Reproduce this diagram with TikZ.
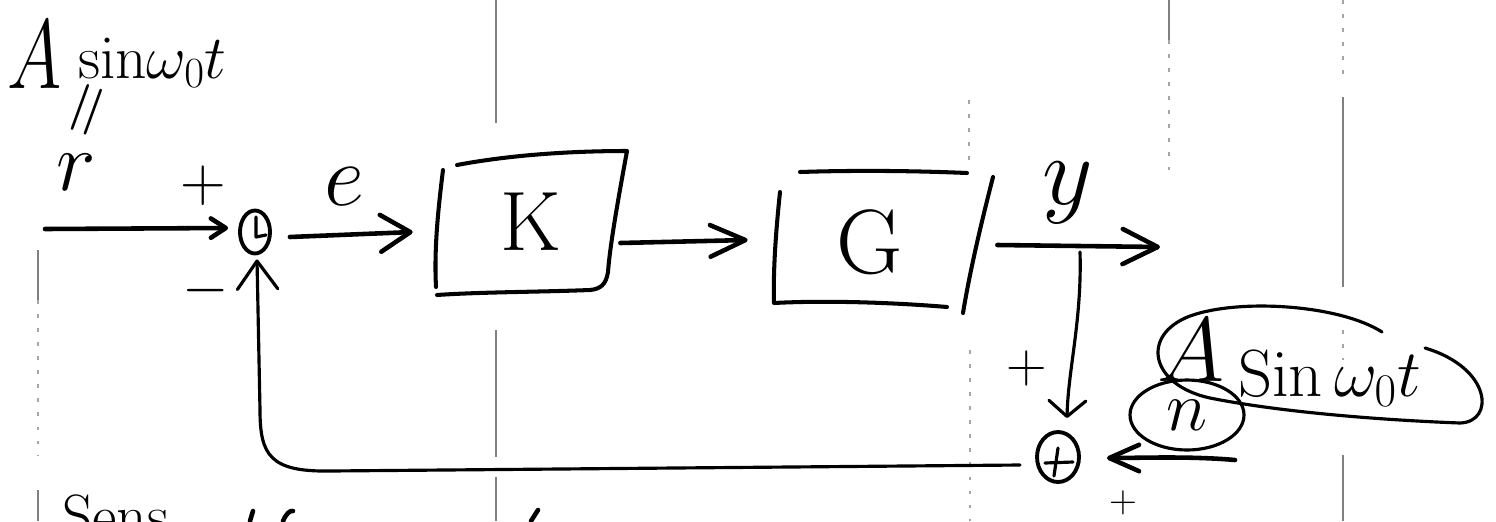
\RequirePackage{fix-cm}
\documentclass[tikz,border=0pt]{standalone}
\usetikzlibrary{arrows.meta,shapes.geometric,calc}
\begin{document}
\begin{tikzpicture}[x=0.02cm,y=-0.02cm,
  hand/.style={line width=2.6pt,line cap=round,line join=round},
  boxside/.style={line width=2.3pt,line cap=round,line join=round},
  fline/.style={line width=1.8pt,line cap=round,line join=round},
  pageline/.style={line width=0.6pt,black!50},
  pagedots/.style={line width=0.6pt,black!35,dash pattern=on 2pt off 6pt},
  lbl/.style={inner sep=0pt,outer sep=0pt},
  sumj/.style={draw,ellipse,line width=2.2pt,inner sep=0pt},
  blk/.style={inner sep=0pt,minimum width=3.6cm,minimum height=2.6cm},
  barb/.style 2 args={-{Straight Barb[length=#1,width=#2,round]}}
]
\useasboundingbox (0,0) rectangle (1496,521);
\clip (0,0) rectangle (1496,521);

% faint page rules of the scan
\draw[pageline] (38,250) -- (38,300);
\draw[pagedots] (38,300) -- (38,455);
\draw[pageline] (38,490) -- (38,521);
\draw[pageline] (496,0) -- (496,123);
\draw[pageline] (496,330) -- (496,457);
\draw[pageline] (496,477) -- (496,521);
\draw[pagedots] (969,100) -- (969,160);
\draw[pagedots] (970,350) -- (970,521);
\draw[pageline] (1169,0) -- (1169,40);
\draw[pagedots] (1169,40) -- (1169,175);
\draw[pagedots] (1343,0) -- (1343,80);
\draw[pageline] (1343,97) -- (1343,287);
\draw[pagedots] (1343,330) -- (1343,360);
\draw[pageline] (1343,455) -- (1343,521);

% top-left label
\node[lbl,anchor=base west,font=\fontsize{56}{56}\selectfont] (bigA) at (8,88) {\scalebox{0.75}[1]{$A$}};
\node[lbl,anchor=base west,font=\fontsize{35}{35}\selectfont] (sinr) at (78,78) {$\mathrm{sin}\omega_0 t$};
\node[lbl,rotate=70,font=\fontsize{44}{44}\selectfont] (eqs) at (92,112) {$=$};
\node[lbl,font=\fontsize{48}{48}\selectfont] (rr) at (76,172) {$r$};

% summing junction 1
\node[sumj,minimum width=0.6cm,minimum height=0.86cm] (s1) at (255,232) {};
\draw[fline] ($(s1)+(1,-15)$) -- ($(s1)+(1,5)$) -- ($(s1)+(11,3)$);
\node[lbl,font=\fontsize{36}{36}\selectfont] (plus1) at (203,186) {$+$};
\node[lbl,font=\fontsize{34}{34}\selectfont] (minus1) at (206,291) {$-$};
\node[lbl,font=\fontsize{50}{50}\selectfont] (ee) at (344,187) {$e$};

% blocks
\node[blk,font=\fontsize{48}{48}\selectfont] (K) at (531,222) {K};
\node[blk,font=\fontsize{52}{52}\selectfont] (G) at (870,242) {G};
% hand-drawn outline of K
\draw[boxside] (443,170) .. controls (438,210) and (434,250) .. (436,287);
\draw[boxside] (457,165) .. controls (510,155) and (570,151) .. (627,151)
  .. controls (618,200) and (610,245) .. (608,272)
  .. controls (606,285) and (600,289) .. (590,290)
  .. controls (540,292) and (480,292) .. (437,295);
% hand-drawn outline of G
\draw[boxside] (800,172) .. controls (860,170) and (920,171) .. (967,173);
\draw[boxside] (780,192) .. controls (776,230) and (773,270) .. (774,303)
  .. controls (830,300) and (900,303) .. (947,307);
\draw[boxside] (993,177) .. controls (982,220) and (970,270) .. (963,313);

\node[lbl,font=\fontsize{56}{56}\selectfont] (yy) at (1068,193) {$y$};

% summing junction 2
\node[sumj,minimum width=0.84cm,minimum height=1.0cm] (s2) at (1058,457) {};
\draw[fline] ($(s2)+(0,-9)$) -- ($(s2)+(-4,19)$);
\draw[fline] ($(s2)+(-13,6)$) -- ($(s2)+(15,5)$);
\node[lbl,font=\fontsize{32}{32}\selectfont] (plus2) at (1027,368) {$+$};
\node[lbl,font=\fontsize{22}{22}\selectfont] (plus3) at (1123,503) {$+$};

% disturbance label
\node[draw,ellipse,line width=1.8pt,inner sep=0pt,minimum width=2.28cm,minimum height=1.4cm,
      font=\fontsize{40}{40}\selectfont] (nn) at (1187,415) {$n$};
\node[lbl,font=\fontsize{52}{52}\selectfont] (A2) at (1191,350) {$A$};
\node[lbl,anchor=base west,font=\fontsize{38}{38}\selectfont] (sin2) at (1238,396) {$\mathrm{Sin}\,\omega_0 t$};
\draw[fline] (1382,332) .. controls (1340,305) and (1240,298) .. (1190,316)
  .. controls (1140,335) and (1150,385) .. (1210,398)
  .. controls (1280,412) and (1380,420) .. (1460,423)
  .. controls (1495,422) and (1492,368) .. (1425,348);

% coordinates for free ends
\coordinate (inp) at (45,229);
\coordinate (outp) at (1160,247);
\coordinate (brp) at (1080,252);
\coordinate (nzp) at (1235,460);

% connectors
\draw[hand,barb={8.5pt}{11pt}] (inp) -- ($(s1.west)+(-10,-4)$);
\draw[hand,barb={17pt}{21pt}] ($(s1.east)+(18,5)$) -- ($(K.west)+(-28,10)$);
\draw[hand,barb={20pt}{18pt}] ($(K.east)+(-1,21)$) -- ($(G.west)+(-32,-2)$);
\draw[hand,barb={20pt}{20pt}] ($(G.east)+(37,3)$) -- (outp);
\draw[fline,barb={9pt}{21pt}] (brp) .. controls (1082,320) and (1068,370) .. ($(s2.north)+(9,-12)$);
\draw[hand,barb={17pt}{15pt}] (nzp) .. controls (1190,456) and (1140,458) .. ($(s2.east)+(26,1)$);
\draw[fline,barb={16pt}{23pt}] ($(s2.west)+(-15,8)$) -- (330,471)
  .. controls (270,472) and (260,455) .. (260,410) -- ($(s1.south)+(2,4)$);

% cut-off text at the bottom edge
\node[lbl,anchor=base west,font=\fontsize{34}{34}\selectfont] (sens) at (62,536) {Sens};
\draw[hand] (250,521) -- (253,511);
\draw[hand] (283,521) .. controls (286,514) and (290,510) .. (293,511);
\draw[hand] (531,521) -- (538,510);
\end{tikzpicture}
\end{document}
